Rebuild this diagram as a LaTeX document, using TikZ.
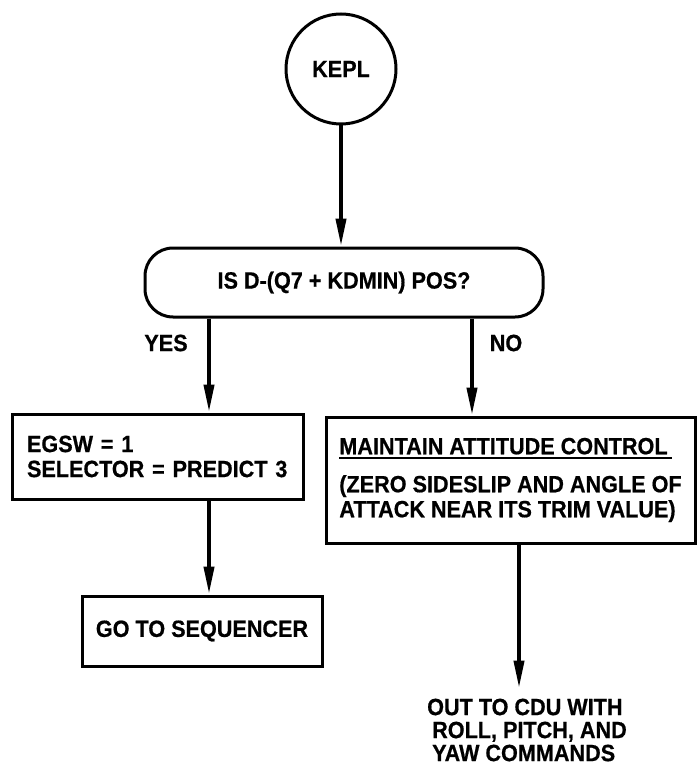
\documentclass[tikz,border=0pt]{standalone}
\usepackage{fontspec}
\setmainfont{Liberation Sans}[FakeStretch=0.92, BoldFeatures={FakeBold=0.6}]
\usetikzlibrary{arrows.meta}
\newcommand\thickul[1]{\setbox0\hbox{#1}\makebox[0pt][l]{\rule[-5pt]{\dimexpr\wd0+4pt\relax}{2.5pt}}\box0}
\begin{document}
\begin{tikzpicture}[x=1pt,y=-1pt,
  every node/.style={font=\bfseries\fontsize{23.5}{25}\selectfont},
  startc/.style={circle, draw, line width=3pt, minimum size=110pt, inner sep=0pt},
  decis/.style={rectangle, rounded corners=28pt, draw, line width=3pt, minimum width=398pt, minimum height=69pt, inner sep=0pt},
  procbox/.style={rectangle, draw, line width=3pt, inner sep=0pt},
  flow/.style={line width=4pt, -{Triangle[length=28pt,width=10pt]}},
  lbl/.style={inner sep=0pt}]
\path[use as bounding box] (0,0) rectangle (697,767);
\node[startc] (kepl) at (341,69) {KEPL};
\node[decis] (dec) at (344,282.5) {IS D-(Q7 + KDMIN) POS?};
\node[procbox, minimum width=291pt, minimum height=85pt, text width=261pt, inner xsep=15pt, align=left] (lbox) at (157.5,456.5) {EGSW = 1\\SELECTOR = PREDICT 3};
\node[procbox, minimum width=240pt, minimum height=70pt] (gobox) at (202,631) {GO TO SEQUENCER};
\node[procbox, minimum width=369pt, minimum height=126pt, align=left] (rbox) at (510.5,480) {\thickul{MAINTAIN ATTITUDE CONTROL}\\[13pt](ZERO SIDESLIP AND ANGLE OF\\ATTACK NEAR ITS TRIM VALUE)};
\node[lbl, align=left, anchor=north west, font=\bfseries\fontsize{23.5}{23}\selectfont] (out) at (427,698.5) {OUT TO CDU WITH\\\hspace*{5pt}ROLL, PITCH, AND\\\hspace*{5pt}YAW COMMANDS};
\node[lbl] (yes) at (166,343) {YES};
\node[lbl] (no) at (506,343) {NO};
\coordinate (yx) at (209,0);
\coordinate (nx) at (472,0);
\coordinate (ox) at (519,0);
\coordinate (outtop) at ([yshift=10pt]out.north);
\draw[flow] (kepl.south) -- (kepl.south |- dec.north);
\draw[flow] (dec.south -| yx) -- (lbox.north -| yx);
\draw[flow] (dec.south -| nx) -- (rbox.north -| nx);
\draw[flow] (lbox.south -| yx) -- (gobox.north -| yx);
\draw[flow] (rbox.south -| ox) -- (outtop -| ox);
\end{tikzpicture}
\end{document}
